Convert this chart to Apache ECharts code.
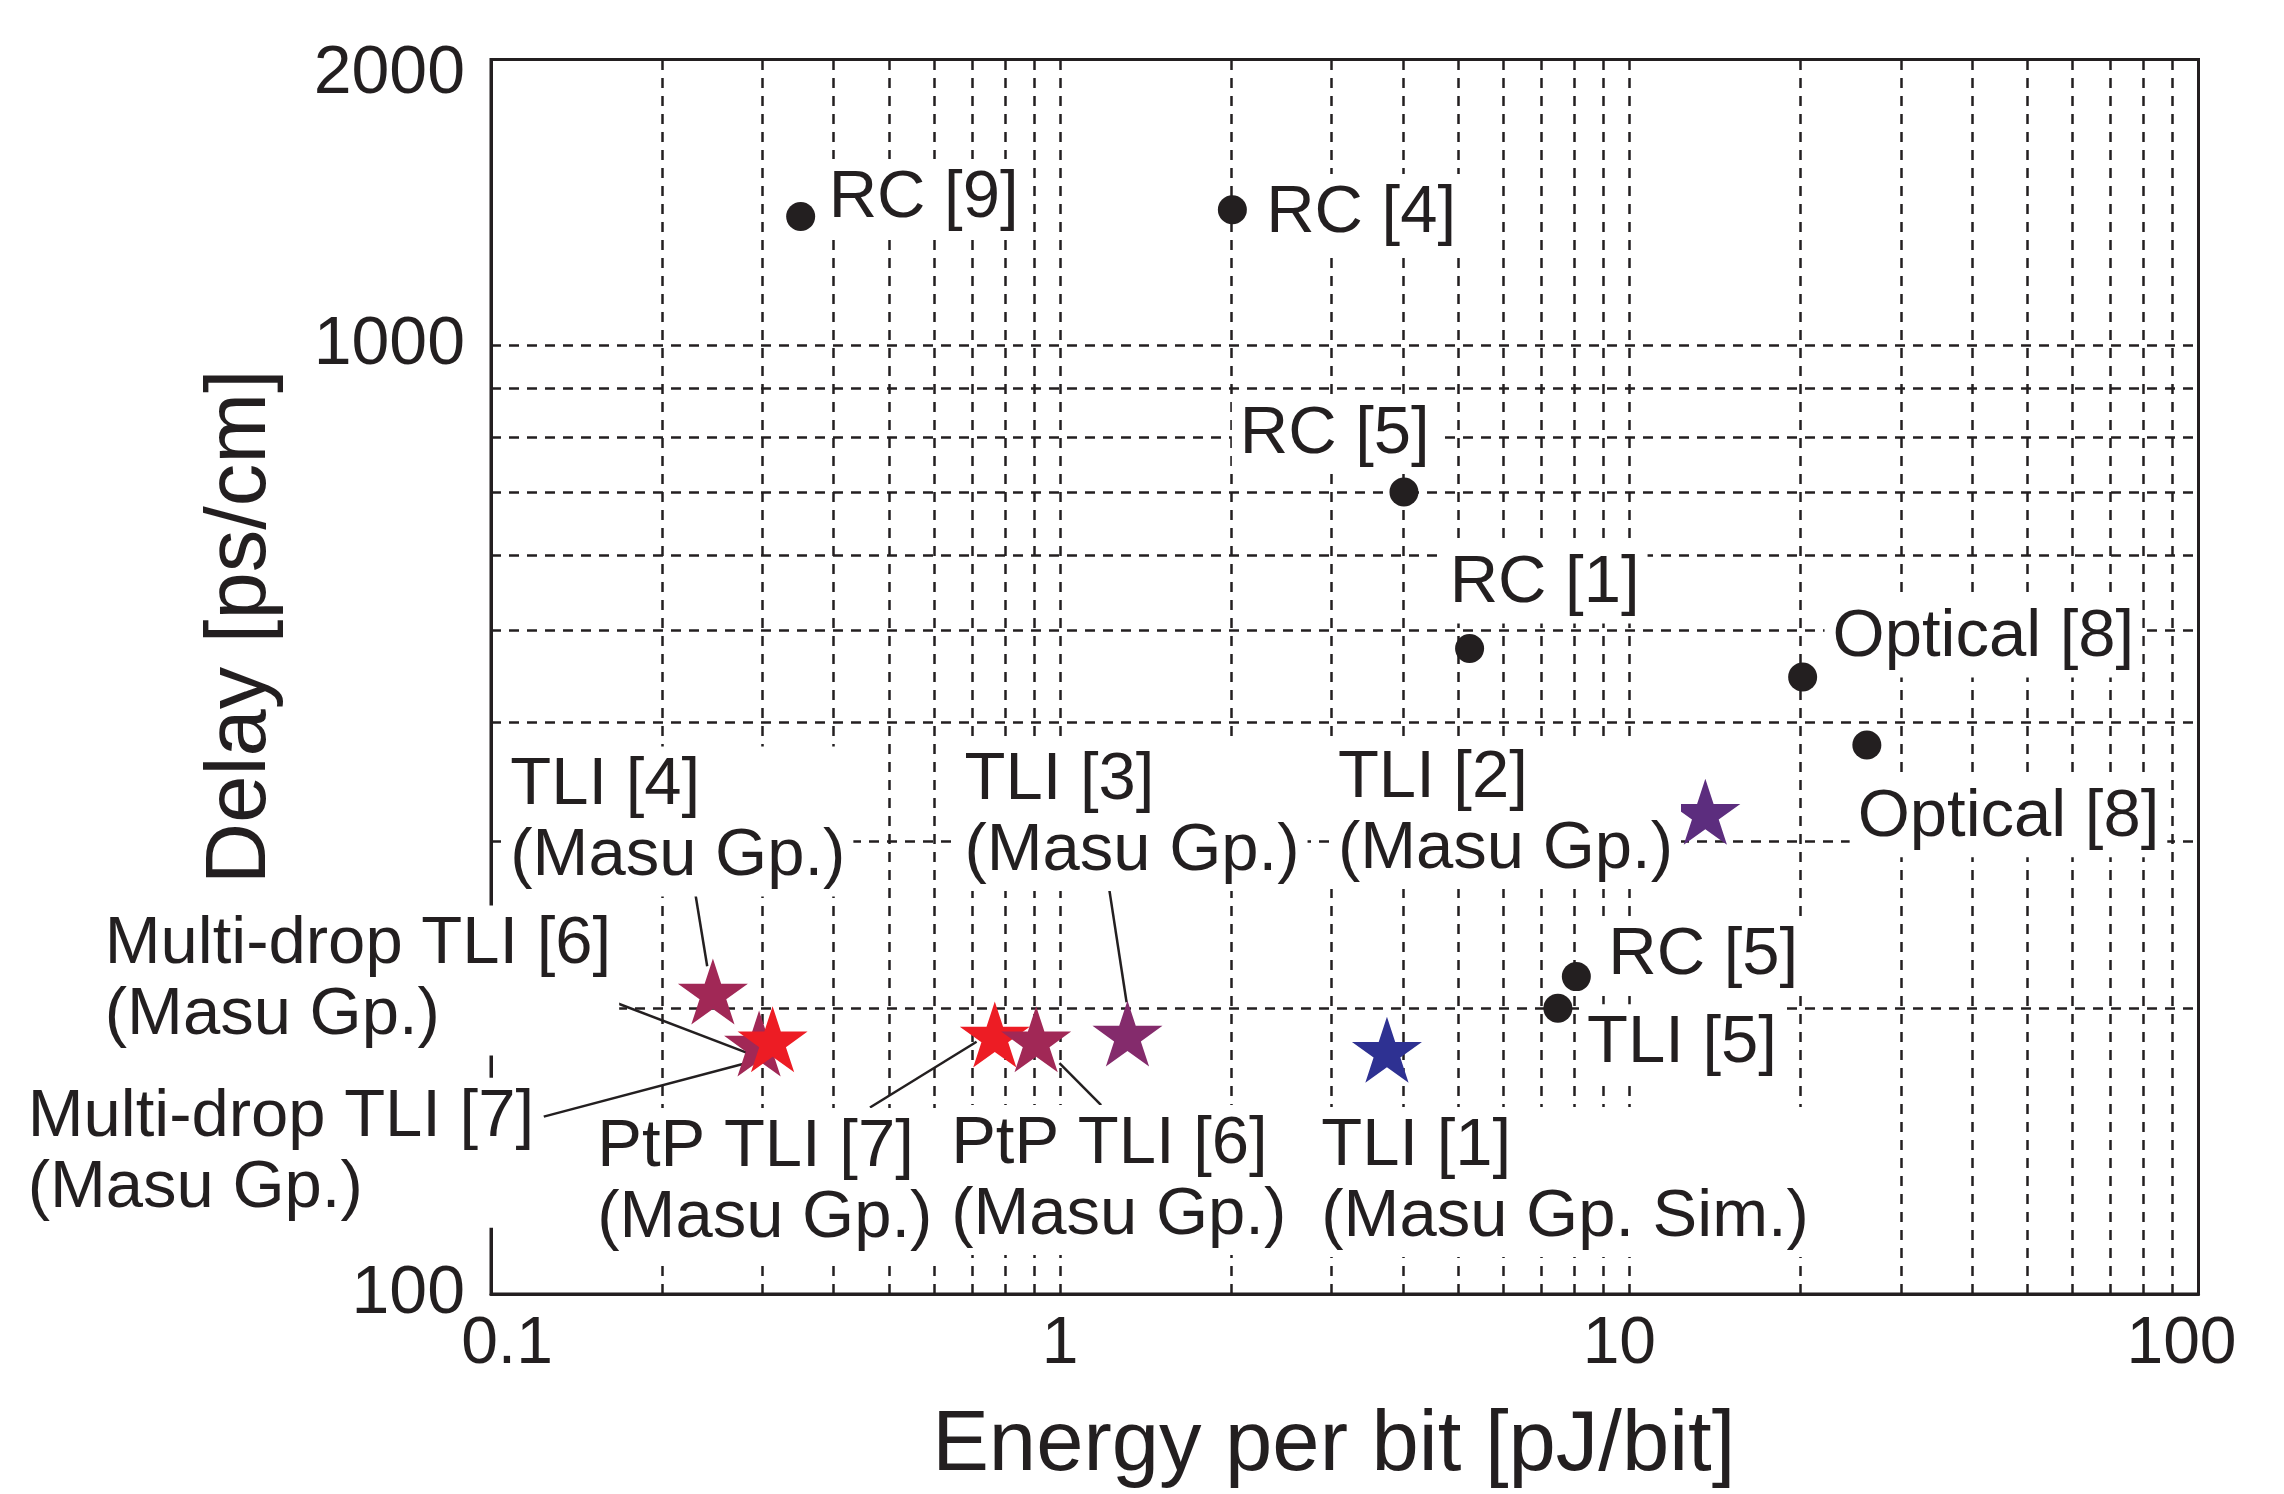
<!DOCTYPE html>
<html><head><meta charset="utf-8">
<script src="https://cdn.jsdelivr.net/npm/echarts@6/dist/echarts.min.js"></script>
<style>html,body{margin:0;padding:0;background:#fff;}#c{width:2284px;height:1494px;}</style>
</head><body><div id="c"></div>
<script>
// ---------- data ----------
const xTickValues = [0.1, 1, 10, 100];
const xTickLabels = ['0.1', '1', '10', '100'];
const yTickValues = [100, 1000, 2000];
const yTickLabels = ['100', '1000', '2000'];
const xGridValues = [0.2, 0.3, 0.4, 0.5, 0.6, 0.7, 0.8, 0.9, 1, 2, 3, 4, 5, 6, 7, 8, 9, 10, 20, 30, 40, 50, 60, 70, 80, 90];
const yGridValues = [200, 300, 400, 500, 600, 700, 800, 900, 1000];

const dotNames = ['RC [9]', 'RC [4]', 'RC [5]', 'RC [1]', 'Optical [8]', 'Optical [8]', 'RC [5]', 'TLI [5]'];
const dotEnergy = [0.350, 2.007, 4.018, 5.24, 20.16, 26.14, 8.07, 7.49];
const dotDelay = [1366, 1389, 700, 479, 447, 379, 216, 200];

const starNames = ['TLI [4]\n(Masu Gp.)', 'Multi-drop TLI [6]\n(Masu Gp.)', 'Multi-drop TLI [7]\n(Masu Gp.)',
  'PtP TLI [7]\n(Masu Gp.)', 'PtP TLI [6]\n(Masu Gp.)', 'TLI [3]\n(Masu Gp.)', 'TLI [1]\n(Masu Gp. Sim.)', 'TLI [2]\n(Masu Gp.)'];
const starEnergy = [0.2454, 0.2958, 0.3124, 0.7676, 0.9074, 1.313, 3.751, 13.6];
const starDelay = [208.3, 183.6, 185.5, 187.7, 185.5, 188.1, 180.9, 322.2];

// ---------- styles / layout ----------
const INK = '#231f20';
const FONT = "'Liberation Sans', Arial, sans-serif";
const starColors = ['#a12856', '#a12856', '#ed1c24', '#ed1c24', '#a12856', '#842b6c', '#2e3192', '#5c2d7e'];
// glyph-left / cap-top of first label line relative to the mark centre (px)
const dotLabelPos = [[32, -42.7], [37.8, -21], [-160.1, -82.5], [-15.9, -89.3], [33.9, -63.7], [-5.2, 48.1], [36, -46], [33.1, 10.6]];
const starLabelPos = [[-198.6, -230.4], [-650.3, -123.5], [-740.9, 53], [-393.5, 88.2], [-81, 80.3], [-159, -278], [-61.7, 71.9], [-363.4, -58.1]];
// leader lines relative to star centre: [x1,y1,x2,y2]
const leaderLines = [[-18.3, -102.3, -5.7, -25.4], [-190.8, -59.1, -11.9, 9.2], [-228.8, 77.3, -18.4, 21.6],
  [-124.8, 73, -18.2, 7.2], [65, 65.7, 23.3, 23.7], [-18.3, -144.8, -0.9, -31.4], null, null];

const FS = 67, LH = 71, PADT = 4, PADL = 8, BEAR = 4;
const CAPOFF = LH / 2 - 0.37 * FS;
function lblOffset(p) { return [p[0] - PADL - BEAR, p[1] - PADT - CAPOFF]; }

const STAR = 'path://M0 -100 L22.45 -30.9 L95.11 -30.9 L36.33 11.8 L58.78 80.9 L0 38.2 L-58.78 80.9 L-36.33 11.8 L-95.11 -30.9 L-22.45 -30.9 Z';

const labelBase = {
  show: true, position: 'inside', align: 'left', verticalAlign: 'top',
  fontFamily: FONT, fontSize: FS, lineHeight: LH, color: INK,
  backgroundColor: '#fff', padding: [PADT, PADL, PADT, PADL],
  formatter: p => p.name
};

function idxOf(arr, v) {
  let best = 0, bd = Infinity;
  arr.forEach((t, i) => { const d = Math.abs(Math.log10(t) - Math.log10(v)); if (d < bd) { bd = d; best = i; } });
  return best;
}

const chart = echarts.init(document.getElementById('c'), null, { renderer: 'canvas' });
const tickFontX = { fontFamily: FONT, fontSize: 66, color: INK };
const tickFontY = { fontFamily: FONT, fontSize: 68, color: INK };

chart.setOption({
  animation: false,
  backgroundColor: '#fff',
  grid: { left: 491, right: 85.5, top: 59.4, bottom: 190.3, show: true, borderColor: INK, borderWidth: 3, backgroundColor: 'transparent' },
  xAxis: {
    type: 'log', logBase: 10, min: 0.1, max: 100,
    axisLine: { show: true, lineStyle: { color: INK, width: 3 } },
    axisTick: { show: false }, splitLine: { show: false }, minorSplitLine: { show: false },
    axisLabel: {
      customValues: xTickValues, margin: 18, ...tickFontX,
      formatter: v => { const i = idxOf(xTickValues, v); return '{x' + i + '|' + xTickLabels[i] + '}'; },
      rich: {
        x0: { ...tickFontX, padding: [0, 0, 0, 32] }, x1: { ...tickFontX },
        x2: { ...tickFontX, padding: [0, 20, 0, 0] }, x3: { ...tickFontX, padding: [0, 34, 0, 0] }
      }
    },
    name: 'Energy per bit [pJ/bit]', nameLocation: 'middle', nameGap: 110,
    nameTextStyle: { fontFamily: FONT, fontSize: 85, color: INK, padding: [0, 22, 0, 0] }
  },
  yAxis: {
    type: 'log', logBase: 10, min: 100, max: 2000,
    axisLine: { show: true, lineStyle: { color: INK, width: 3 } },
    axisTick: { show: false }, splitLine: { show: false }, minorSplitLine: { show: false },
    axisLabel: {
      customValues: yTickValues, margin: 26, ...tickFontY,
      formatter: v => { const i = idxOf(yTickValues, v); return '{y' + i + '|' + yTickLabels[i] + '}'; },
      rich: { y0: { ...tickFontY }, y1: { ...tickFontY }, y2: { ...tickFontY, padding: [30, 0, 0, 0] } }
    },
    name: 'Delay [ps/cm]', nameLocation: 'middle', nameGap: 207,
    nameTextStyle: { fontFamily: FONT, fontSize: 85, color: INK, padding: [0, 0, 0, 100] }
  },
  series: [
    {
      type: 'scatter', z: 1, data: [], silent: true,
      markLine: {
        z: 1, silent: true, symbol: ['none', 'none'], label: { show: false }, animation: false,
        lineStyle: { type: [10, 8], color: INK, width: 2.5 },
        emphasis: { disabled: true },
        data: [...xGridValues.map(v => ({ xAxis: v })), ...yGridValues.map(v => ({ yAxis: v }))]
      }
    },
    {
      type: 'scatter', z: 3, symbol: 'circle', symbolSize: 29,
      itemStyle: { color: INK, opacity: 1 },
      label: labelBase,
      data: dotNames.map((n, i) => ({ name: n, value: [dotEnergy[i], dotDelay[i]], label: { offset: lblOffset(dotLabelPos[i]) } }))
    },
    {
      type: 'scatter', z: 4, symbol: STAR, symbolSize: [70, 66],
      label: labelBase,
      data: starNames.map((n, i) => ({ name: n, value: [starEnergy[i], starDelay[i]], itemStyle: { color: starColors[i], opacity: 1 }, label: { offset: lblOffset(starLabelPos[i]) } }))
    }
  ]
});

const gfx = [];
leaderLines.forEach((l, i) => {
  if (!l) return;
  const c = chart.convertToPixel({ gridIndex: 0 }, [starEnergy[i], starDelay[i]]);
  gfx.push({ type: 'line', z: 2, silent: true, shape: { x1: c[0] + l[0], y1: c[1] + l[1], x2: c[0] + l[2], y2: c[1] + l[3] }, style: { stroke: INK, lineWidth: 2.5 } });
});
chart.setOption({ graphic: gfx });
</script></body></html>
